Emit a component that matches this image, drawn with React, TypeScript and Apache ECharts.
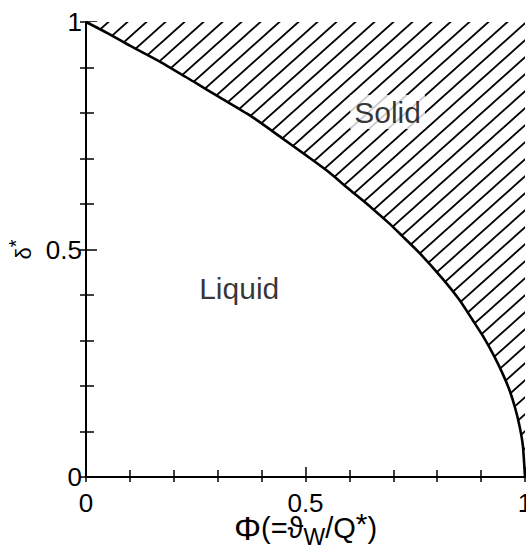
import React, { useEffect, useRef } from "react";
import * as echarts from "echarts";

// Melting-front boundary: dimensionless position δ* against Φ (= ϑw / Q*)
const phi = [0, 0.05, 0.1, 0.17, 0.25, 0.3, 0.376, 0.445, 0.5, 0.548, 0.6, 0.65, 0.69, 0.72, 0.76, 0.812, 0.85, 0.88, 0.904, 0.93, 0.95, 0.965, 0.978, 0.988, 0.995, 1];
const delta = [1, 0.975, 0.948, 0.912, 0.866, 0.837, 0.793, 0.746, 0.708, 0.674, 0.632, 0.592, 0.558, 0.53, 0.492, 0.436, 0.39, 0.346, 0.31, 0.265, 0.225, 0.19, 0.15, 0.11, 0.07, 0];

// Region names and the (Φ, δ*) spots where they are written
const regionNames = ["Solid", "Liquid"];
const regionPhi = [0.687, 0.349];
const regionDelta = [0.802, 0.415];

const FONT = "'Liberation Sans', Arial, sans-serif";

// Diagonal hatch tile used to fill the solid region
function hatchTile(): string {
  const w = 19;
  const h = 17;
  const c = document.createElement("canvas");
  c.width = w;
  c.height = h;
  const ctx = c.getContext("2d");
  if (!ctx) return "";
  ctx.fillStyle = "#fff";
  ctx.fillRect(0, 0, w, h);
  ctx.strokeStyle = "#000";
  ctx.lineWidth = 1.8;
  for (let k = -2; k <= 2; k++) {
    ctx.beginPath();
    ctx.moveTo(k * w - w, 2 * h);
    ctx.lineTo(k * w + 2 * w, -h);
    ctx.stroke();
  }
  return c.toDataURL();
}

export default function App() {
  const ref = useRef<HTMLDivElement>(null);

  useEffect(() => {
    if (!ref.current) return;
    const chart = echarts.init(ref.current, undefined, { renderer: "svg" });
    const hatch = hatchTile();

    const axisLine = { show: true, lineStyle: { color: "#000", width: 2 } };
    const tickLine = { color: "#000", width: 1.5 };

    chart.setOption({
      animation: false,
      backgroundColor: "#fff",
      grid: { left: 86, right: 1, top: 22, bottom: 72, containLabel: false, outerBoundsMode: "none" },
      xAxis: [
        {
          type: "value",
          position: "bottom",
          min: 0,
          max: 1,
          interval: 0.5,
          axisLine,
          axisTick: { show: true, inside: true, length: 10, lineStyle: tickLine },
          minorTick: { show: true, splitNumber: 5, length: 7, lineStyle: tickLine },
          splitLine: { show: false },
          minorSplitLine: { show: false },
          axisLabel: { fontSize: 26, color: "#000", fontFamily: FONT, margin: 13 },
          name: "{a|Φ}{b|(=ϑ}{c|W}{b|/Q}{d|*}{b|)}",
          nameLocation: "middle",
          nameGap: 31,
          nameMoveOverlap: false,
          nameTextStyle: {
            color: "#000",
            fontFamily: FONT,
            rich: {
              a: { fontSize: 34, lineHeight: 40, color: "#000", fontFamily: FONT },
              b: { fontSize: 29, lineHeight: 29, color: "#000", fontFamily: FONT },
              c: { fontSize: 23, lineHeight: 20, color: "#000", fontFamily: FONT, verticalAlign: "bottom" },
              d: { fontSize: 30, lineHeight: 18, color: "#000", fontFamily: FONT, verticalAlign: "top" },
            },
          },
        },
        {
          type: "value",
          position: "top",
          min: 0,
          max: 1,
          interval: 0.1,
          axisLine,
          axisTick: { show: true, inside: true, length: 5, lineStyle: tickLine },
          axisLabel: { show: false },
          splitLine: { show: false },
        },
      ],
      yAxis: [
        {
          type: "value",
          position: "left",
          min: 0,
          max: 1,
          interval: 0.5,
          axisLine,
          axisTick: { show: true, inside: true, length: 11, lineStyle: tickLine },
          minorTick: { show: true, splitNumber: 5, length: 8, lineStyle: tickLine },
          splitLine: { show: false },
          minorSplitLine: { show: false },
          axisLabel: { fontSize: 26, color: "#000", fontFamily: FONT, margin: 4 },
          name: "{d|δ}{s|*}",
          nameLocation: "middle",
          nameGap: 46,
          nameTextStyle: {
            color: "#000",
            fontFamily: FONT,
            rich: {
              d: { fontSize: 22, color: "#000", fontFamily: FONT },
              s: { fontSize: 20, color: "#000", fontFamily: FONT, padding: [0, 0, 14, 0] },
            },
          },
        },
        {
          type: "value",
          position: "right",
          min: 0,
          max: 1,
          interval: 0.1,
          axisLine: { show: false },
          axisTick: { show: true, inside: true, length: 6, lineStyle: tickLine },
          axisLabel: { show: false },
          splitLine: { show: false },
        },
      ],
      series: [
        {
          type: "line",
          data: phi.map((x, i) => [x, delta[i]]),
          symbol: "none",
          smooth: 0.25,
          lineStyle: { color: "#000", width: 2.6 },
          areaStyle: {
            origin: "end",
            opacity: 1,
            color: { image: hatch, repeat: "repeat" },
          },
          z: 3,
        },
        {
          type: "scatter",
          symbolSize: 0,
          data: regionNames.map((n, i) => ({ name: n, value: [regionPhi[i], regionDelta[i]] })),
          label: {
            show: true,
            position: "inside",
            formatter: "{b}",
            fontSize: 30,
            color: "#000",
            fontFamily: FONT,
            backgroundColor: "#fff",
            padding: [2, 4],
          },
          z: 5,
        },
      ],
    });

    return () => chart.dispose();
  }, []);

  return (
    <div
      ref={ref}
      style={{ position: "fixed", left: 0, top: 0, width: 526, height: 549, background: "#fff" }}
    />
  );
}
